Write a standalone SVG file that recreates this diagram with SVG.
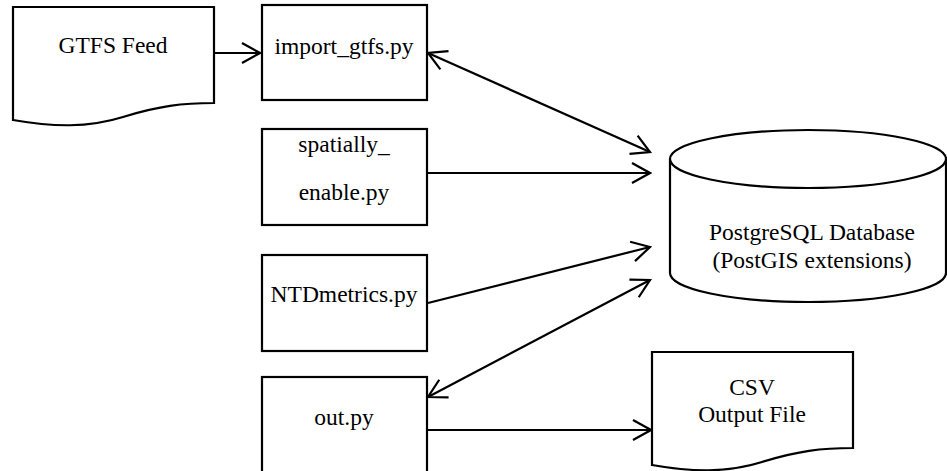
<svg xmlns="http://www.w3.org/2000/svg" width="947" height="471" viewBox="0 0 947 471">
<style>
.s{fill:#fff;stroke:#000;stroke-width:2.2}
.t{font-family:"Liberation Serif","Times New Roman",serif;font-size:23.5px;fill:#000;text-anchor:middle}
.c{fill:none;stroke:#000;stroke-width:2.2}
</style>
<defs>
<marker id="a" markerUnits="userSpaceOnUse" viewBox="-22 -12 24 24" refX="0" refY="0" markerWidth="24" markerHeight="24" orient="auto-start-reverse">
<path d="M-18,-10 L0,0 L-18,10" fill="none" stroke="#000" stroke-width="2.2"/>
</marker>
<path id="doc" d="M0,0 L201,0 L201,96 C170,96 145,99 110,110 C75,121 40,120 0,113 Z"/>
</defs>
<rect width="947" height="471" fill="#fff"/>
<g id="gtfs">
<use href="#doc" x="13" y="7" class="s"/>
<text class="t" x="113" y="53">GTFS Feed</text>
</g>
<g id="import">
<rect class="s" x="262" y="5" width="165" height="95"/>
<text class="t" x="344" y="54">import_gtfs.py</text>
</g>
<g id="spatial">
<rect class="s" x="262" y="129" width="165" height="96"/>
<text class="t" x="344" y="152">spatially_</text>
<text class="t" x="344" y="200">enable.py</text>
</g>
<g id="ntd">
<rect class="s" x="262" y="255" width="165" height="96"/>
<text class="t" x="344" y="302">NTDmetrics.py</text>
</g>
<g id="out">
<rect class="s" x="262" y="377" width="165" height="100"/>
<text class="t" x="344" y="425">out.py</text>
</g>
<g id="db">
<path class="s" d="M670,159 L670,273 A138,29 0 0 0 946,273 L946,159"/>
<ellipse class="s" cx="808" cy="159" rx="138" ry="29"/>
<text class="t" x="812" y="240">PostgreSQL Database</text>
<text class="t" x="812" y="268">(PostGIS extensions)</text>
</g>
<g id="csv">
<use href="#doc" x="652" y="352" class="s"/>
<text class="t" x="752" y="395">CSV</text>
<text class="t" x="752" y="422">Output File</text>
</g>
<g id="connectors">
<line class="c" x1="214" y1="53" x2="260" y2="53" marker-end="url(#a)"/>
<line class="c" x1="428" y1="53" x2="650" y2="152" marker-start="url(#a)" marker-end="url(#a)"/>
<line class="c" x1="427" y1="173" x2="650" y2="173" marker-end="url(#a)"/>
<line class="c" x1="428" y1="303" x2="650" y2="247" marker-end="url(#a)"/>
<line class="c" x1="428" y1="397" x2="650" y2="280" marker-start="url(#a)" marker-end="url(#a)"/>
<line class="c" x1="427" y1="430" x2="651" y2="430" marker-end="url(#a)"/>
</g>
</svg>
